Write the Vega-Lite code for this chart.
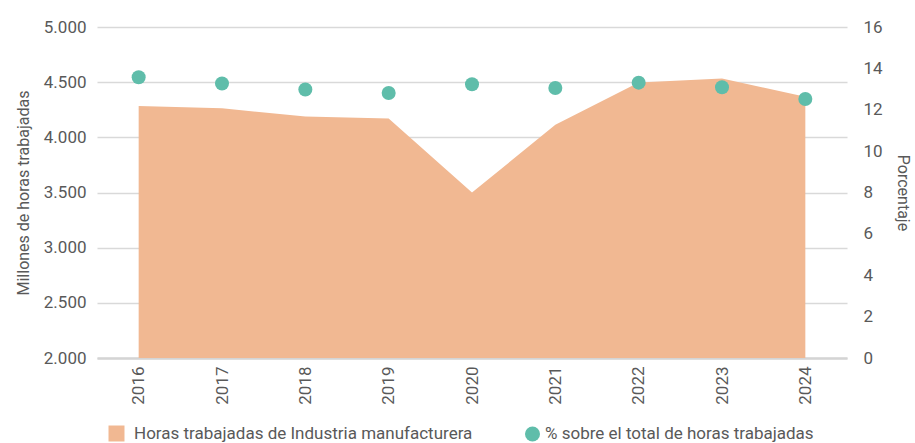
{
  "$schema": "https://vega.github.io/schema/vega-lite/v6.json",
  "width": 750,
  "height": 331,
  "padding": {"left": 97, "right": 68, "top": 27, "bottom": 85},
  "autosize": {"type": "none"},
  "config": {
    "font": "Roboto, sans-serif",
    "view": {"stroke": null},
    "axis": {"labelColor": "#595959", "titleColor": "#595959", "labelFontSize": 17, "titleFontSize": 16, "titleFontWeight": "normal", "ticks": false, "domain": false, "gridColor": "#d9d9d9", "gridWidth": 1.5, "labelFont": "Roboto", "titleFont": "Roboto"},
    "legend": {"labelColor": "#595959", "labelFontSize": 17, "labelFont": "Roboto", "labelLimit": 0}
  },
  "data": {"values": [
    {"year": "2016", "horas": 4285, "pct": 13.57},
    {"year": "2017", "horas": 4264, "pct": 13.27},
    {"year": "2018", "horas": 4188, "pct": 12.98},
    {"year": "2019", "horas": 4170, "pct": 12.81},
    {"year": "2020", "horas": 3500, "pct": 13.23},
    {"year": "2021", "horas": 4113, "pct": 13.05},
    {"year": "2022", "horas": 4497, "pct": 13.31},
    {"year": "2023", "horas": 4533, "pct": 13.09},
    {"year": "2024", "horas": 4367, "pct": 12.52}
  ]},
  "encoding": {
    "x": {"field": "year", "type": "ordinal", "scale": {"type": "point", "padding": 0.5}, "axis": {"title": null, "labelAngle": -90, "labelPadding": 8, "grid": false, "domain": true, "domainColor": "#d4d4d4", "domainWidth": 2.5}}
  },
  "layer": [
    {
      "mark": {"type": "area", "opacity": 1},
      "encoding": {
        "y": {"field": "horas", "type": "quantitative", "scale": {"domain": [2000, 5000], "zero": false, "nice": false}, "axis": {"title": "Millones de horas trabajadas", "values": [2000, 2500, 3000, 3500, 4000, 4500, 5000], "labelExpr": "replace(format(datum.value, ',d'), ',', '.')", "labelPadding": 11, "titlePadding": 12}},
        "y2": {"datum": 2000},
        "color": {"datum": "Horas trabajadas de Industria manufacturera", "type": "nominal", "scale": {"range": ["#F1B892"]}, "legend": {"orient": "none", "legendX": 11, "legendY": 398, "title": null, "symbolType": "square", "symbolSize": 256, "symbolStrokeWidth": 0, "labelOffset": 9}}
      }
    },
    {
      "mark": {"type": "point", "filled": true, "size": 196, "opacity": 1},
      "encoding": {
        "y": {"field": "pct", "type": "quantitative", "scale": {"domain": [0, 16], "nice": false}, "axis": {"orient": "right", "title": "Porcentaje", "values": [0, 2, 4, 6, 8, 10, 12, 14, 16], "grid": false, "labelPadding": 16, "titlePadding": 12}},
        "color": {"datum": "% sobre el total de horas trabajadas", "type": "nominal", "scale": {"range": ["#5FBDAA"]}, "legend": {"orient": "none", "legendX": 427, "legendY": 398.5, "title": null, "symbolType": "circle", "symbolSize": 225, "symbolStrokeWidth": 0, "labelOffset": 4}}
      }
    }
  ],
  "resolve": {"scale": {"y": "independent", "color": "independent"}, "legend": {"color": "independent"}}
}
